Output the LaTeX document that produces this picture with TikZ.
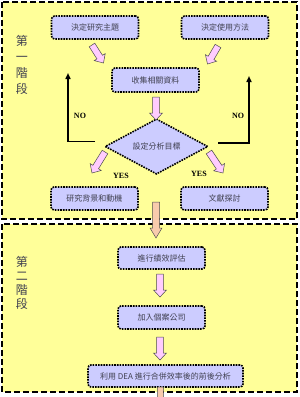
\documentclass[tikz,border=0pt]{standalone}
\usepackage{fontspec}
\setmainfont{Liberation Serif}
\newfontfamily\cjk{Noto Sans CJK TC}
\usetikzlibrary{shapes.geometric,arrows.meta,calc}
\definecolor{frameyellow}{HTML}{FFFF99}
\definecolor{boxblue}{HTML}{CCCCFF}
\definecolor{pinkarrow}{HTML}{FFCCFF}
\definecolor{orangearrow}{HTML}{F8CBAD}
\definecolor{boxtext}{HTML}{404050}
\tikzset{
  frame/.style={fill=frameyellow, draw=black, line width=1.3pt, dash pattern=on 6pt off 3pt},
  box/.style={rectangle, rounded corners=3pt, fill=boxblue, draw=black, line width=1.6pt,
    dash pattern=on 1.6pt off 1.1pt, minimum width=87pt, minimum height=23pt, inner sep=0pt,
    font=\cjk\fontsize{8}{9}\selectfont, text=boxtext},
  dbox/.style={diamond, fill=boxblue, draw=black, line width=1.6pt,
    dash pattern=on 1.6pt off 1.1pt, minimum width=103pt, minimum height=37pt, inner sep=0pt,
    font=\cjk\fontsize{8}{9}\selectfont, text=boxtext},
  pinkarr/.style={fill=pinkarrow, draw=gray!60!black, line width=0.5pt},
  orangearr/.style={fill=orangearrow, draw=gray!60!black, line width=0.5pt},
  noline/.style={draw=black, line width=1.5pt, -{Triangle[width=5pt,length=6pt]}},
  lbl/.style={font=\bfseries\fontsize{8}{9}\selectfont, inner sep=0pt},
  stage/.style={font=\cjk\fontsize{12}{16}\selectfont, text=boxtext, align=center, inner sep=0pt},
}
% block arrow: [style]{from}{to}{shaft half width}{head half width}{head length}
\newcommand\blockarrow[6][]{%
  \path ($(#3)!#6!(#2)$) coordinate (ba-h);
  \draw[#1] ($(#2)!#4!90:(#3)$) -- ($(ba-h)!#4!-90:(#2)$) -- ($(ba-h)!#5!-90:(#2)$)
    -- (#3) -- ($(ba-h)!#5!90:(#2)$) -- ($(ba-h)!#4!90:(#2)$) -- ($(#2)!#4!-90:(#3)$) -- cycle;}
\begin{document}
\begin{tikzpicture}[x=1pt,y=-1pt]
\clip (0,0) rectangle (300,397);
\fill[white] (0,0) rectangle (300,397);
% frames
\draw[frame] (2,2) rectangle (297,219);
\draw[frame] (2,224) rectangle (297,392);
% stage labels
\node[stage] (st1) at (22,65) {第\\一\\階\\段};
\node[stage, font=\cjk\fontsize{12}{14}\selectfont] (st2) at (22,283) {第\\二\\階\\段};
% nodes stage 1
\node[box] (t1) at (95,27.5) {決定研究主題};
\node[box] (t2) at (225,27.5) {決定使用方法};
\node[box, minimum height=24pt] (t3) at (155.5,80) {收集相關資料};
\node[dbox] (dia) at (156.5,146.5) {設定分析目標};
\node[box] (t4) at (94.5,198.5) {研究背景和動機};
\node[box] (t5) at (224.5,198.5) {文獻探討};
% nodes stage 2
\node[box, minimum height=22pt] (s1) at (161.5,258) {進行績效評估};
\node[box] (s2) at (161.5,317.5) {加入個案公司};
\node[box, minimum width=155pt, minimum height=22pt] (s3) at (165.5,376) {利用 DEA 進行合併效率後的前後分析};
% arrow end coordinates
\coordinate (a1s) at (92,45);   \coordinate (a1e) at (103.5,63);
\coordinate (a2s) at (218,46);  \coordinate (a2e) at (207.5,64);
\coordinate (a3s) at (156,97);  \coordinate (a3e) at (156,120);
\coordinate (a4s) at (105,152); \coordinate (a4e) at (92,173);
\coordinate (a5s) at (209,152); \coordinate (a5e) at (223,173);
\coordinate (a6s) at (160,274); \coordinate (a6e) at (160,297);
\coordinate (a7s) at (160,337); \coordinate (a7e) at (160,360);
\coordinate (o1s) at (156,202); \coordinate (o1e) at (156,238);
\coordinate (o2s) at (160.5,387); \coordinate (o2e) at (160.5,420);
\blockarrow[pinkarr]{a1s}{a1e}{3.3pt}{6.5pt}{7pt}
\blockarrow[pinkarr]{a2s}{a2e}{3.3pt}{6.5pt}{7pt}
\blockarrow[pinkarr]{a3s}{a3e}{3.3pt}{6.5pt}{7pt}
\blockarrow[pinkarr]{a4s}{a4e}{3.3pt}{6.5pt}{7pt}
\blockarrow[pinkarr]{a5s}{a5e}{3.3pt}{6.5pt}{7pt}
\blockarrow[pinkarr]{a6s}{a6e}{3.3pt}{6.5pt}{7pt}
\blockarrow[pinkarr]{a7s}{a7e}{3.3pt}{6.5pt}{7pt}
\blockarrow[orangearr]{o1s}{o1e}{3.5pt}{6pt}{10pt}
\blockarrow[orangearr]{o2s}{o2e}{2.8pt}{6pt}{10pt}
% NO loops
\coordinate (nl1) at (95,141.5);  \coordinate (nl2) at (68,73);
\coordinate (nr1) at (218,143);   \coordinate (nr2) at (249,76);
\draw[noline] (nl1) -| (nl2);
\draw[noline] (nr1) -| (nr2);
% labels
\node[lbl] (no1) at (80,116) {NO};
\node[lbl] (no2) at (238,116) {NO};
\node[lbl] (yes1) at (121,176) {YES};
\node[lbl] (yes2) at (199,174) {YES};
\end{tikzpicture}
\end{document}
